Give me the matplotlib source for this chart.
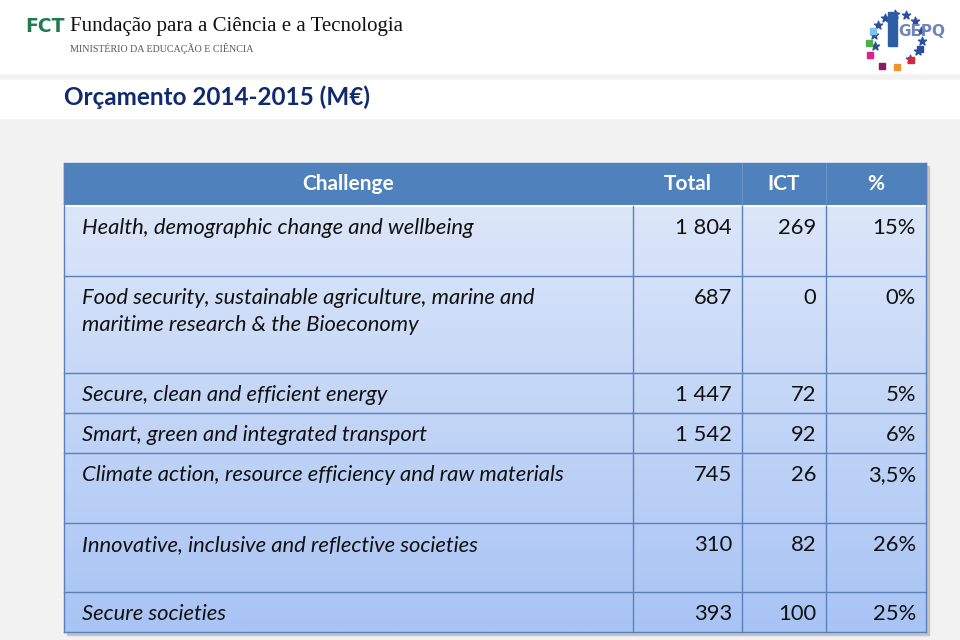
import numpy as np
import matplotlib.pyplot as plt
from matplotlib.patches import Rectangle
from matplotlib.colors import LinearSegmentedColormap

# Table data (M€)
challenges = [
    "Health, demographic change and wellbeing",
    "Food security, sustainable agriculture, marine and\nmaritime research & the Bioeconomy",
    "Secure, clean and efficient energy",
    "Smart, green and integrated transport",
    "Climate action, resource efficiency and raw materials",
    "Innovative, inclusive and reflective societies",
    "Secure societies",
]
total = [1804, 687, 1447, 1542, 745, 310, 393]
ict = [269, 0, 72, 92, 26, 82, 100]
pct = ["15%", "0%", "5%", "6%", "3,5%", "26%", "25%"]
headers = ["Challenge", "Total", "ICT", "%"]

# layout (pixels)
col_x = [64, 633, 742, 826, 926]
head_top, head_bot = 163, 206
row_h = [70, 97, 40, 40, 70, 69, 40]

fnt = "Lato"
fs = 15.8

fig = plt.figure(figsize=(9.6, 6.4), dpi=100)
ax = fig.add_axes([0, 0, 1, 1])
ax.set_xlim(0, 960)
ax.set_ylim(640, 0)
ax.axis("off")

# slide background
ax.add_patch(Rectangle((0, 0), 960, 640, color="#F2F2F2", zorder=0))
ax.add_patch(Rectangle((0, 0), 960, 73, color="white", zorder=0))
ax.add_patch(Rectangle((0, 80), 960, 38, color="white", zorder=0))

# FCT logo
ax.text(25, 27, "FCT", fontsize=13.5, fontweight="bold", color="#1F7A4D",
        family="DejaVu Sans", va="center", ha="left")
ax.text(70, 27, "Fundação para a Ciência e a Tecnologia", fontsize=15,
        family="Liberation Serif", va="center", ha="left", color="#111111")
ax.text(70, 48, "MINISTÉRIO DA EDUCAÇÃO E CIÊNCIA", fontsize=7.2,
        family="Liberation Serif", va="center", ha="left", color="#555555")

# GEPQ logo (approximate)
ang = np.linspace(np.deg2rad(-60), np.deg2rad(200), 11)
ax.scatter(898 + 24 * np.cos(ang), 38 - 24 * np.sin(ang), marker="*", s=38,
           color="#2B4FA0", zorder=3)
ax.add_patch(Rectangle((888, 12), 9, 34, color="#2E5DA8", zorder=3))
ax.text(922, 32, "GEPQ", fontsize=11, fontweight="bold", color="#6E86B8",
        ha="center", va="center", family="DejaVu Sans", zorder=4)
sq = [(870, 28, "#7FC4E8"), (866, 40, "#4CB04A"), (867, 52, "#E0218A"),
      (879, 63, "#8B1A6B"), (894, 64, "#F0922E"), (908, 57, "#D7263D"),
      (917, 46, "#2A4E9E")]
for x, y, c in sq:
    ax.add_patch(Rectangle((x, y), 6, 6, color=c, zorder=3))

# title
ax.text(64, 97, "Orçamento 2014-2015 (M€)", fontsize=17.5, fontweight="bold",
        color="#0F2A6E", family=fnt, va="center", ha="left")

# table
row_top = [head_bot + sum(row_h[:i]) for i in range(len(row_h))]
tab_bot = head_bot + sum(row_h)
left, right = col_x[0], col_x[-1]

# shadow
ax.add_patch(Rectangle((left + 3, head_top + 3), right - left, tab_bot - head_top,
                       color="#C4C4C4", zorder=1))
ax.add_patch(Rectangle((left, head_top), right - left, head_bot - head_top,
                       color="#4F81BD", zorder=2))
cmap = LinearSegmentedColormap.from_list("body", ["#DCE6F9", "#A8C4F4"])
ax.imshow(np.linspace(0, 1, 256).reshape(-1, 1), cmap=cmap, aspect="auto",
          extent=(left, right, tab_bot, head_bot), zorder=2)
ax.set_xlim(0, 960)
ax.set_ylim(640, 0)

line_c = "#5B80BC"
for y in row_top[1:] + [tab_bot]:
    ax.plot([left, right], [y, y], color=line_c, lw=1.0, zorder=3)
ax.plot([left, right], [head_bot, head_bot], color="white", lw=1.5, zorder=3)
for x in col_x[1:-1]:
    ax.plot([x, x], [head_bot, tab_bot], color=line_c, lw=1.0, zorder=3)
for x in col_x[2:-1]:
    ax.plot([x, x], [head_top, head_bot], color="#6A93C8", lw=0.8, zorder=3)
ax.plot([left, left], [head_top, tab_bot], color=line_c, lw=1.0, zorder=3)
ax.plot([right, right], [head_top, tab_bot], color=line_c, lw=1.0, zorder=3)

# header text
hy = (head_top + head_bot) / 2
for i, h in enumerate(headers):
    ax.text((col_x[i] + col_x[i + 1]) / 2, hy, h, color="white", fontsize=15,
            fontweight="bold", family=fnt, ha="center", va="center", zorder=4)

# body text
for i in range(len(challenges)):
    ty = row_top[i] + 20
    for k, line in enumerate(challenges[i].split("\n")):
        ax.text(82, ty + 27 * k, line, fontsize=fs, style="italic", family=fnt,
                ha="left", va="center_baseline", color="#111111", zorder=4)
    vals = [f"{total[i]:,}".replace(",", " "), str(ict[i]), pct[i]]
    for j, v in enumerate(vals):
        ax.text(col_x[j + 2] - 10, ty, v, fontsize=fs, family=fnt,
                ha="right", va="center_baseline", color="#111111", zorder=4)

fig.savefig("out.png", dpi=100)
